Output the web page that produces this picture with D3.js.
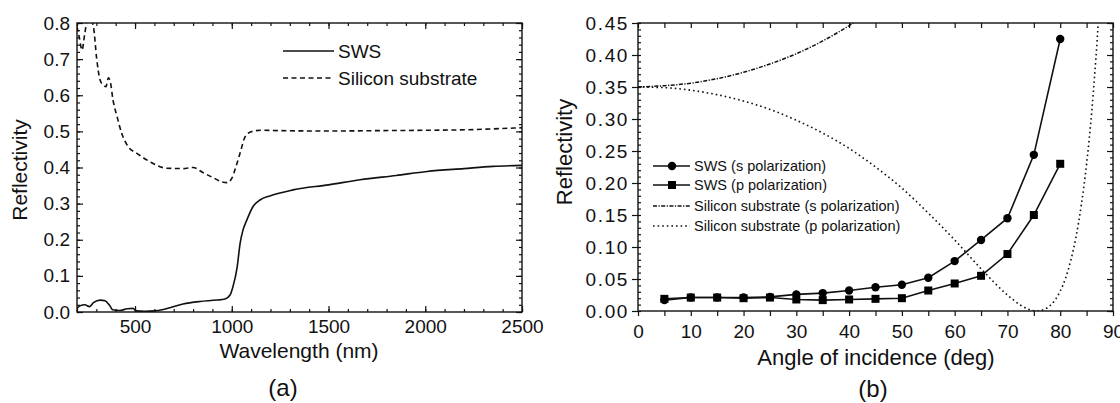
<!DOCTYPE html>
<html>
<head>
<meta charset="utf-8">
<script src="https://cdn.jsdelivr.net/npm/d3@7"></script>
<style>
  body { margin: 0; background: #fff; }
  svg { display: block; }
</style>
</head>
<body>
<div id="chart"></div>
<script>
// ---- panel (a): reflectivity vs wavelength ----
const subWave = [200,212,226,240,255,270,285,302,319,336,350,362,372,386,407,431,464,508,577,664,748,800,851,903,950,975,1000,1020,1043,1068,1100,1150,1250,1500,1750,2000,2250,2400,2500];
const subRefl = [0.79,0.76,0.725,0.77,0.81,0.81,0.79,0.70,0.643,0.628,0.624,0.648,0.638,0.587,0.541,0.495,0.458,0.44,0.416,0.398,0.397,0.40,0.386,0.372,0.36,0.358,0.37,0.40,0.44,0.484,0.499,0.503,0.502,0.501,0.502,0.503,0.505,0.508,0.51];

const swsWave = [200,215,240,265,285,320,345,370,385,420,460,490,505,550,600,640,680,748,836,923,965,991,1006,1028,1043,1058,1078,1110,1146,1200,1317,1500,1663,1850,2009,2200,2350,2500];
const swsRefl = [0.01,0.017,0.02,0.015,0.026,0.033,0.031,0.017,0.006,0.004,0.009,0.01,0.003,0.002,0.003,0.006,0.012,0.022,0.029,0.033,0.036,0.047,0.07,0.125,0.19,0.227,0.255,0.292,0.31,0.322,0.338,0.352,0.366,0.378,0.389,0.397,0.403,0.406];

const aXTicks = [500,1000,1500,2000,2500];
const aYTicks = [0,0.1,0.2,0.3,0.4,0.5,0.6,0.7,0.8];
const aLegend = ["SWS","Silicon substrate"];

// ---- panel (b): reflectivity vs angle of incidence ----
const angles = [5,10,15,20,25,30,35,40,45,50,55,60,65,70,75,80];
const swsS = [0.017,0.021,0.021,0.021,0.022,0.026,0.028,0.032,0.037,0.041,0.052,0.078,0.111,0.145,0.244,0.425];
const swsP = [0.019,0.021,0.021,0.020,0.021,0.018,0.017,0.018,0.019,0.020,0.032,0.043,0.055,0.089,0.150,0.230];

const siSAngle = [0,5,10,15,20,25,30,35,40,42,45];
const siS = [0.350,0.352,0.356,0.363,0.373,0.386,0.402,0.422,0.446,0.457,0.474];
const siPAngle = [0,5,10,15,20,25,30,35,40,45,50,55,60,65,70,72.5,74,75,75.6,76,77.5,78,80,81,82,83,84,85,86,86.5,87,87.5,88];
const siP = [0.350,0.349,0.345,0.338,0.328,0.315,0.298,0.278,0.254,0.225,0.192,0.153,0.111,0.066,0.025,0.009,0.0027,0.0004,0,0.0002,0.0047,0.0078,0.031,0.051,0.079,0.116,0.166,0.230,0.314,0.366,0.424,0.491,0.567];

const bXTicks = [0,10,20,30,40,50,60,70,80,90];
const bYTicks = [0,0.05,0.1,0.15,0.2,0.25,0.3,0.35,0.4,0.45];
const bLegend = ["SWS (s polarization)","SWS (p polarization)","Silicon substrate (s polarization)","Silicon substrate (p polarization)"];

const font = "Arial, 'Liberation Sans', Helvetica, sans-serif";
const width = 1120, height = 403;

const svg = d3.select("#chart").append("svg")
    .attr("width", width)
    .attr("height", height)
    .style("font-family", font);

svg.append("rect").attr("width", width).attr("height", height).attr("fill", "#fff");

const defs = svg.append("defs");

// ================= panel (a) =================
const A = {l: 77, r: 522, t: 23, b: 312};
const xa = d3.scaleLinear().domain([200, 2500]).range([A.l, A.r]);
const ya = d3.scaleLinear().domain([0, 0.8]).range([A.b, A.t]);

defs.append("clipPath").attr("id", "clipA")
  .append("rect").attr("x", A.l).attr("y", A.t).attr("width", A.r - A.l).attr("height", A.b - A.t);

const ga = svg.append("g");

function innerAxis(g, axis, tx, ty) {
  const s = g.append("g").attr("transform", `translate(${tx},${ty})`).call(axis);
  s.select(".domain").remove();
  s.selectAll("line").attr("stroke", "#111").attr("stroke-width", 1.2);
  return s;
}

const aMinorX = d3.range(200, 2501, 100);
const aMinorY = d3.range(0, 0.801, 0.02);

// bottom
innerAxis(ga, d3.axisBottom(xa).tickValues(aMinorX).tickSize(-3).tickFormat(""), 0, A.b);
innerAxis(ga, d3.axisBottom(xa).tickValues(aXTicks).tickSize(-6).tickPadding(8).tickFormat(d3.format("d")), 0, A.b)
  .selectAll("text").attr("font-size", 19).attr("fill", "#111").attr("font-family", font);
// top
innerAxis(ga, d3.axisTop(xa).tickValues(aMinorX).tickSize(-3).tickFormat(""), 0, A.t);
innerAxis(ga, d3.axisTop(xa).tickValues(aXTicks).tickSize(-6).tickFormat(""), 0, A.t);
// left
innerAxis(ga, d3.axisLeft(ya).tickValues(aMinorY).tickSize(-3).tickFormat(""), A.l, 0);
innerAxis(ga, d3.axisLeft(ya).tickValues(aYTicks).tickSize(-6).tickPadding(7).tickFormat(d3.format(".1f")), A.l, 0)
  .selectAll("text").attr("font-size", 19).attr("fill", "#111").attr("font-family", font);
// right
innerAxis(ga, d3.axisRight(ya).tickValues(aMinorY).tickSize(-3).tickFormat(""), A.r, 0);
innerAxis(ga, d3.axisRight(ya).tickValues(aYTicks).tickSize(-6).tickFormat(""), A.r, 0);

const lineA = d3.line().x(d => xa(d[0])).y(d => ya(d[1])).curve(d3.curveMonotoneX);

ga.append("path")
  .datum(d3.zip(subWave, subRefl))
  .attr("clip-path", "url(#clipA)")
  .attr("fill", "none").attr("stroke", "#111").attr("stroke-width", 1.6)
  .attr("stroke-dasharray", "5,3.5")
  .attr("d", lineA);

ga.append("path")
  .datum(d3.zip(swsWave, swsRefl))
  .attr("clip-path", "url(#clipA)")
  .attr("fill", "none").attr("stroke", "#111").attr("stroke-width", 1.6)
  .attr("d", lineA);

ga.append("rect")
  .attr("x", A.l).attr("y", A.t).attr("width", A.r - A.l).attr("height", A.b - A.t)
  .attr("fill", "none").attr("stroke", "#111").attr("stroke-width", 1.4);

// legend (a)
const legA = ga.append("g");
aLegend.forEach((name, i) => {
  const y = 51 + i * 27;
  legA.append("line").attr("x1", 283).attr("x2", 334).attr("y1", y).attr("y2", y)
    .attr("stroke", "#111").attr("stroke-width", 1.6)
    .attr("stroke-dasharray", i === 1 ? "5,3.5" : null);
  legA.append("text").attr("x", 338).attr("y", y).attr("dy", "0.36em")
    .attr("font-size", 19).attr("fill", "#111").text(name);
});

ga.append("text").attr("x", 299).attr("y", 358).attr("text-anchor", "middle")
  .attr("font-size", 21).attr("fill", "#111").text("Wavelength (nm)");
ga.append("text").attr("transform", "translate(27,170) rotate(-90)").attr("text-anchor", "middle")
  .attr("font-size", 21).attr("fill", "#111").text("Reflectivity");
ga.append("text").attr("x", 283).attr("y", 396).attr("text-anchor", "middle")
  .attr("font-size", 24).attr("fill", "#111").text("(a)");

// ================= panel (b) =================
const B = {l: 638, r: 1113, t: 23, b: 311};
const xb = d3.scaleLinear().domain([0, 90]).range([B.l, B.r]);
const yb = d3.scaleLinear().domain([0, 0.45]).range([B.b, B.t]);

defs.append("clipPath").attr("id", "clipB")
  .append("rect").attr("x", B.l).attr("y", B.t).attr("width", B.r - B.l).attr("height", B.b - B.t);

const gb = svg.append("g");

const bMinorX = d3.range(0, 90.1, 5);
const bMinorY = d3.range(0, 0.4501, 0.01);

// bottom (outward)
innerAxis(gb, d3.axisBottom(xb).tickValues(bMinorX).tickSize(5).tickFormat(""), 0, B.b);
innerAxis(gb, d3.axisBottom(xb).tickValues(bXTicks).tickSize(0).tickPadding(14).tickFormat(d3.format("d")), 0, B.b)
  .selectAll("text").attr("font-size", 19).attr("fill", "#111").attr("font-family", font);
// top (inward)
innerAxis(gb, d3.axisTop(xb).tickValues(bMinorX).tickSize(-5).tickFormat(""), 0, B.t);
// left: major outward, minor inward
innerAxis(gb, d3.axisLeft(yb).tickValues(bMinorY).tickSize(-3).tickFormat(""), B.l, 0);
innerAxis(gb, d3.axisLeft(yb).tickValues(bYTicks).tickSize(6).tickPadding(3).tickFormat(d3.format(".2f")), B.l, 0)
  .selectAll("text").attr("font-size", 19).attr("fill", "#111").attr("font-family", font)
  .attr("letter-spacing", "1.6px");
// right (inward)
innerAxis(gb, d3.axisRight(yb).tickValues(bMinorY).tickSize(-3).tickFormat(""), B.r, 0);
innerAxis(gb, d3.axisRight(yb).tickValues(bYTicks).tickSize(-6).tickFormat(""), B.r, 0);

const lineB = d3.line().x(d => xb(d[0])).y(d => yb(d[1])).curve(d3.curveMonotoneX);
const lineStraight = d3.line().x(d => xb(d[0])).y(d => yb(d[1]));

gb.append("path")
  .datum(d3.zip(siSAngle, siS))
  .attr("clip-path", "url(#clipB)")
  .attr("fill", "none").attr("stroke", "#111").attr("stroke-width", 1.5)
  .attr("stroke-dasharray", "4,1.5,1.2,1.5")
  .attr("d", lineB);

gb.append("path")
  .datum(d3.zip(siPAngle, siP))
  .attr("clip-path", "url(#clipB)")
  .attr("fill", "none").attr("stroke", "#111").attr("stroke-width", 1.6)
  .attr("stroke-dasharray", "1.6,3")
  .attr("d", lineB);

gb.append("path")
  .datum(d3.zip(angles, swsS))
  .attr("fill", "none").attr("stroke", "#111").attr("stroke-width", 1.6)
  .attr("d", lineStraight);
gb.append("path")
  .datum(d3.zip(angles, swsP))
  .attr("fill", "none").attr("stroke", "#111").attr("stroke-width", 1.6)
  .attr("d", lineStraight);

gb.selectAll("circle.s")
  .data(d3.zip(angles, swsS))
  .join("circle").attr("class", "s")
  .attr("cx", d => xb(d[0])).attr("cy", d => yb(d[1])).attr("r", 4.2)
  .attr("fill", "#000");

gb.selectAll("rect.p")
  .data(d3.zip(angles, swsP))
  .join("rect").attr("class", "p")
  .attr("x", d => xb(d[0]) - 4).attr("y", d => yb(d[1]) - 4)
  .attr("width", 8).attr("height", 8)
  .attr("fill", "#000");

gb.append("rect")
  .attr("x", B.l).attr("y", B.t).attr("width", B.r - B.l).attr("height", B.b - B.t)
  .attr("fill", "none").attr("stroke", "#111").attr("stroke-width", 1.4);

// legend (b)
const legB = gb.append("g");
const legDash = [null, null, "4,1.5,1.2,1.5", "1.6,3"];
const legRowY = [166, 185, 206, 226];
bLegend.forEach((name, i) => {
  const y = legRowY[i];
  legB.append("line").attr("x1", 653).attr("x2", 690).attr("y1", y).attr("y2", y)
    .attr("stroke", "#111").attr("stroke-width", 1.5)
    .attr("stroke-dasharray", legDash[i]);
  if (i === 0) legB.append("circle").attr("cx", 672).attr("cy", y).attr("r", 4.2).attr("fill", "#000");
  if (i === 1) legB.append("rect").attr("x", 668).attr("y", y - 4).attr("width", 8).attr("height", 8).attr("fill", "#000");
  legB.append("text").attr("x", 694).attr("y", y).attr("dy", "0.36em")
    .attr("font-size", 14.5).attr("fill", "#111").text(name);
});

gb.append("text").attr("x", 876).attr("y", 365).attr("text-anchor", "middle")
  .attr("font-size", 22).attr("fill", "#111").text("Angle of incidence (deg)");
gb.append("text").attr("transform", "translate(572,152) rotate(-90)").attr("text-anchor", "middle")
  .attr("font-size", 22).attr("fill", "#111").text("Reflectivity");
gb.append("text").attr("x", 873).attr("y", 397).attr("text-anchor", "middle")
  .attr("font-size", 24).attr("fill", "#111").text("(b)");
</script>
</body>
</html>
